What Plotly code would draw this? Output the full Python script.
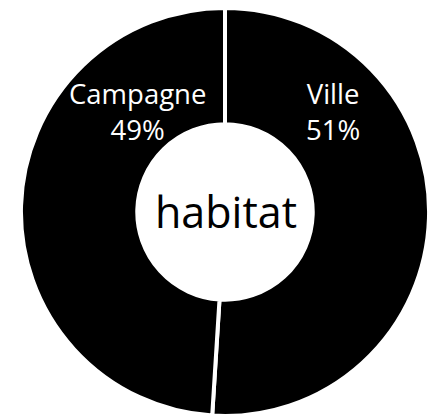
import plotly.graph_objects as go

# Données
categories = ["Ville", "Campagne"]
valeurs = [51, 49]
titre_centre = "habitat"

total = sum(valeurs)
etiquettes = [f"{c}<br>{round(v * 100 / total)}%" for c, v in zip(categories, valeurs)]

fig = go.Figure(go.Pie(
    labels=categories,
    values=valeurs,
    hole=0.43,
    sort=False,
    direction="clockwise",
    rotation=0,
    textinfo="none",
    hoverinfo="label+percent",
    marker=dict(colors=["black", "black"], line=dict(color="white", width=4)),
    domain=dict(x=[0.0463, 0.9954], y=[0.0, 0.981]),
    showlegend=False,
))

# etiquettes des secteurs (placées en haut, comme sur l'original)
pos = [(333, 111), (137, 111)]
for txt, (px, py) in zip(etiquettes, pos):
    fig.add_annotation(
        x=px / 432, y=1 - py / 416, xref="paper", yref="paper",
        xanchor="center", yanchor="middle",
        text=txt, showarrow=False,
        font=dict(family="Open Sans", size=27.5, color="white"),
        align="center",
    )

fig.add_annotation(
    x=226 / 432, y=1 - 211 / 416, xref="paper", yref="paper",
    xanchor="center", yanchor="middle",
    text=titre_centre, showarrow=False,
    font=dict(family="Open Sans", size=43, color="black"),
)

fig.update_layout(
    width=432, height=416,
    margin=dict(l=0, r=0, t=0, b=0),
    paper_bgcolor="white",
    plot_bgcolor="white",
)

fig.write_html("out.html", config={"displayModeBar": False},
               post_script="document.body.style.margin='0';")
